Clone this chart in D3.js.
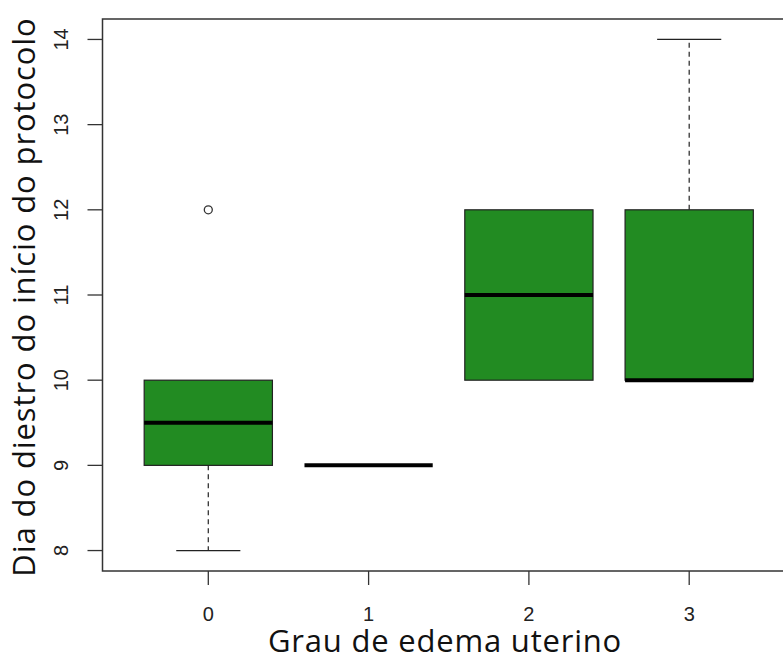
<!DOCTYPE html>
<html>
<head>
<meta charset="utf-8">
<script src="https://cdn.jsdelivr.net/npm/d3@7"></script>
<style>
  body { margin: 0; background: #fff; }
  svg { display: block; }
</style>
</head>
<body>
<div id="root"></div>
<script>
// box statistics per group
var categories = ["0", "1", "2", "3"]
var whiskerLow = [8, 9, 10, 10]
var q1 = [9, 9, 10, 10]
var median = [9.5, 9, 11, 10]
var q3 = [10, 9, 12, 12]
var whiskerHigh = [10, 9, 12, 14]
var outliers = [[12], [], [], []]
var yTicks = [8, 9, 10, 11, 12, 13, 14]

var width = 783, height = 655
var plot = { left: 102.5, right: 795, top: 19, bottom: 571 }
var green = "#228B22"

var svg = d3.select("#root").append("svg")
    .attr("width", width)
    .attr("height", height)

// R style: x range 0.5..n+0.5 padded 4%
var x = d3.scaleLinear()
    .domain([0.34, 4.66])
    .range([plot.left, plot.right])
var y = d3.scaleLinear()
    .domain([7.76, 14.24])
    .range([plot.bottom, plot.top])

var step = x(2) - x(1)
var boxW = step * 0.8

var data = categories.map(function(c, i) {
  return { cat: c, pos: i + 1, lo: whiskerLow[i], q1: q1[i], med: median[i],
           q3: q3[i], hi: whiskerHigh[i], out: outliers[i] }
})

var g = svg.append("g")

// whiskers
data.forEach(function(d) {
  var cx = x(d.pos)
  if (d.hi > d.q3) {
    g.append("line").attr("x1", cx).attr("x2", cx).attr("y1", y(d.q3)).attr("y2", y(d.hi))
      .attr("stroke", "#333").attr("stroke-width", 1.3).attr("stroke-dasharray", "5,4")
    g.append("line").attr("x1", cx - boxW / 4).attr("x2", cx + boxW / 4).attr("y1", y(d.hi)).attr("y2", y(d.hi))
      .attr("stroke", "#222").attr("stroke-width", 1.3)
  }
  if (d.lo < d.q1) {
    g.append("line").attr("x1", cx).attr("x2", cx).attr("y1", y(d.q1)).attr("y2", y(d.lo))
      .attr("stroke", "#333").attr("stroke-width", 1.3).attr("stroke-dasharray", "5,4")
    g.append("line").attr("x1", cx - boxW / 4).attr("x2", cx + boxW / 4).attr("y1", y(d.lo)).attr("y2", y(d.lo))
      .attr("stroke", "#222").attr("stroke-width", 1.3)
  }
})

// boxes
g.selectAll(".box")
  .data(data.filter(function(d) { return d.q3 > d.q1 }))
  .enter().append("rect")
  .attr("class", "box")
  .attr("x", function(d) { return x(d.pos) - boxW / 2 })
  .attr("width", boxW)
  .attr("y", function(d) { return y(d.q3) })
  .attr("height", function(d) { return y(d.q1) - y(d.q3) })
  .attr("fill", green)
  .attr("stroke", "#222")
  .attr("stroke-width", 1.2)

// medians
g.selectAll(".median")
  .data(data)
  .enter().append("line")
  .attr("class", "median")
  .attr("x1", function(d) { return x(d.pos) - boxW / 2 })
  .attr("x2", function(d) { return x(d.pos) + boxW / 2 })
  .attr("y1", function(d) { return y(d.med) })
  .attr("y2", function(d) { return y(d.med) })
  .attr("stroke", "#000")
  .attr("stroke-width", 4)

// outliers
data.forEach(function(d) {
  d.out.forEach(function(v) {
    g.append("circle").attr("cx", x(d.pos)).attr("cy", y(v)).attr("r", 4)
      .attr("fill", "none").attr("stroke", "#333").attr("stroke-width", 1.3)
  })
})

// frame
svg.append("rect")
  .attr("x", plot.left).attr("y", plot.top)
  .attr("width", plot.right - plot.left).attr("height", plot.bottom - plot.top)
  .attr("fill", "none").attr("stroke", "#333").attr("stroke-width", 1.5)

// y axis
var yAxis = svg.append("g")
yAxis.selectAll("line").data(yTicks).enter().append("line")
  .attr("x1", plot.left - 15).attr("x2", plot.left)
  .attr("y1", function(d) { return y(d) }).attr("y2", function(d) { return y(d) })
  .attr("stroke", "#333").attr("stroke-width", 1.3)
yAxis.selectAll("text").data(yTicks).enter().append("text")
  .attr("transform", function(d) { return "translate(68," + y(d) + ") rotate(-90)" })
  .attr("text-anchor", "middle")
  .style("font-family", "'Liberation Sans', Arial, sans-serif")
  .style("font-size", "20px")
  .attr("fill", "#222")
  .text(function(d) { return d })

// x axis
var xAxis = svg.append("g")
xAxis.selectAll("line").data(data).enter().append("line")
  .attr("x1", function(d) { return x(d.pos) }).attr("x2", function(d) { return x(d.pos) })
  .attr("y1", plot.bottom).attr("y2", plot.bottom + 14)
  .attr("stroke", "#333").attr("stroke-width", 1.3)
xAxis.selectAll("text").data(data).enter().append("text")
  .attr("x", function(d) { return x(d.pos) })
  .attr("y", 621)
  .attr("text-anchor", "middle")
  .style("font-family", "'Liberation Sans', Arial, sans-serif")
  .style("font-size", "20px")
  .attr("fill", "#222")
  .text(function(d) { return d.cat })

// titles
svg.append("text")
  .attr("x", 445).attr("y", 652)
  .attr("text-anchor", "middle")
  .style("font-family", "'Open Sans', sans-serif")
  .style("font-size", "31px")
  .style("letter-spacing", "0.8px")
  .attr("fill", "#111")
  .text("Grau de edema uterino")

svg.append("text")
  .attr("transform", "translate(35,297) rotate(-90)")
  .attr("text-anchor", "middle")
  .style("font-family", "'Open Sans', sans-serif")
  .style("font-size", "31px")
  .style("letter-spacing", "0.9px")
  .attr("fill", "#111")
  .text("Dia do diestro do início do protocolo")
</script>
</body>
</html>
